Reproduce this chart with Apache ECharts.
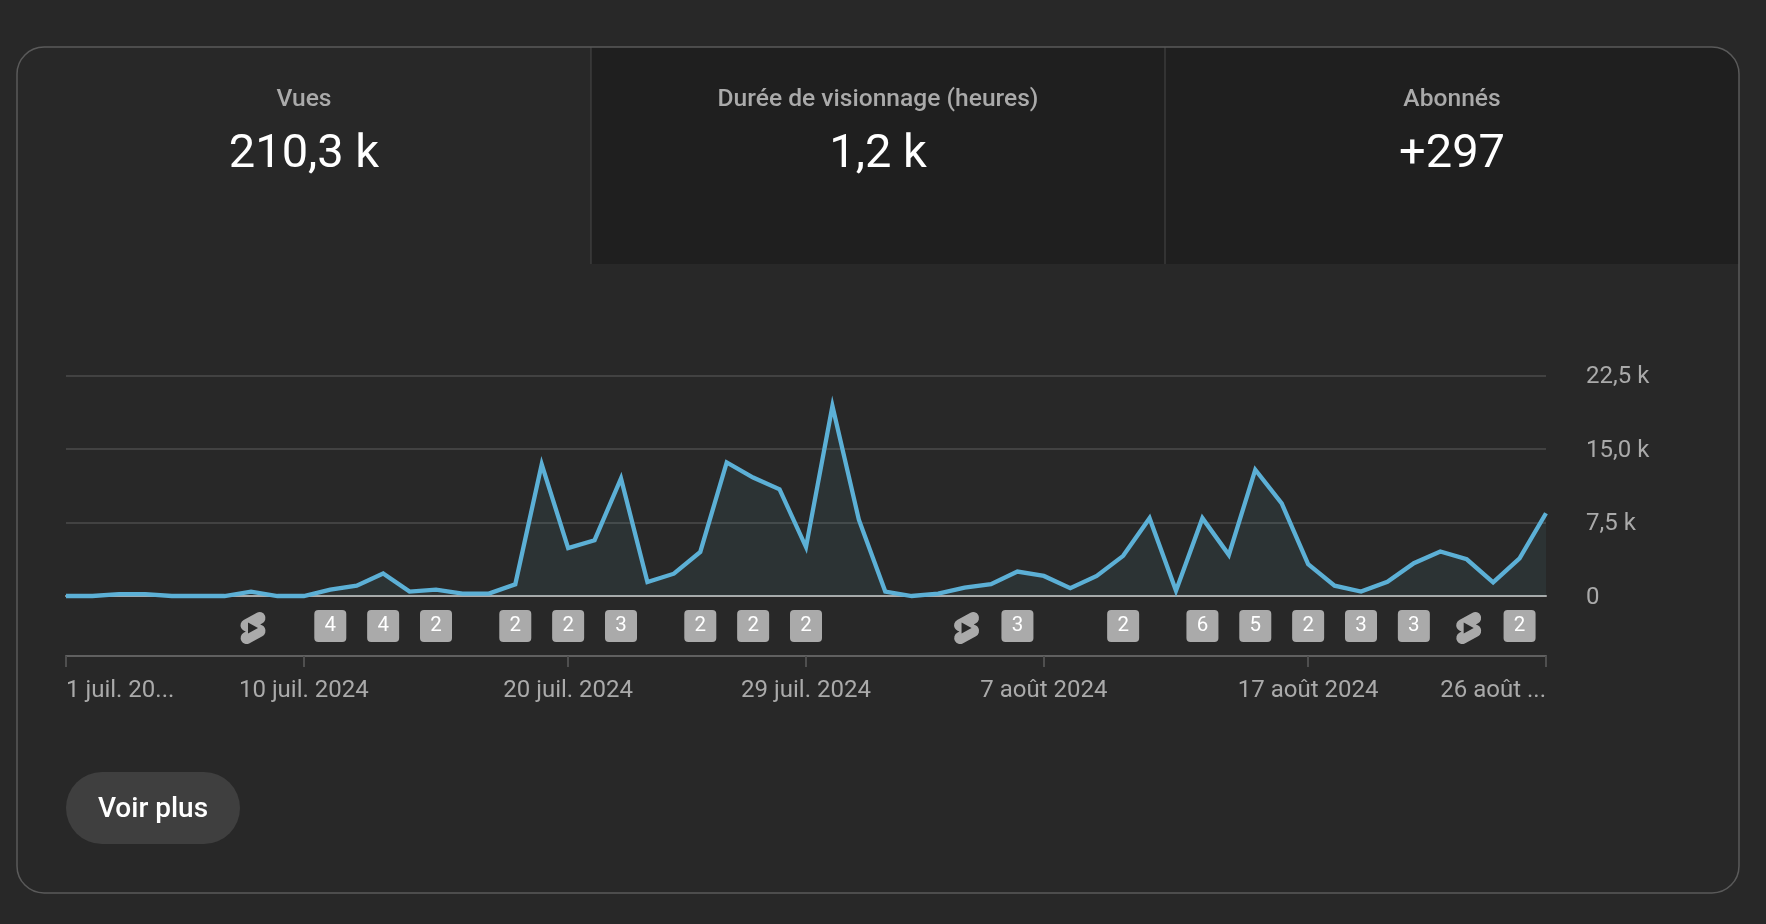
<!DOCTYPE html>
<html lang="fr">
<head>
<meta charset="utf-8">
<title>Vues</title>
<style>html,body{margin:0;padding:0;background:#282828}#c{width:1766px;height:924px}</style>
<script src="https://cdn.jsdelivr.net/npm/echarts@6/dist/echarts.min.js"></script>
</head>
<body>
<div id="c"></div>
<script>
const categories = ['1 juil.','2 juil.','3 juil.','4 juil.','5 juil.','6 juil.','7 juil.','8 juil.','9 juil.','10 juil.','11 juil.','12 juil.','13 juil.','14 juil.','15 juil.','16 juil.','17 juil.','18 juil.','19 juil.','20 juil.','21 juil.','22 juil.','23 juil.','24 juil.','25 juil.','26 juil.','27 juil.','28 juil.','29 juil.','30 juil.','31 juil.','1 août','2 août','3 août','4 août','5 août','6 août','7 août','8 août','9 août','10 août','11 août','12 août','13 août','14 août','15 août','16 août','17 août','18 août','19 août','20 août','21 août','22 août','23 août','24 août','25 août','26 août'];
const views = [0,0,200,200,0,0,0,450,0,0,650,1050,2300,450,650,250,250,1200,13450,4900,5700,12000,1430,2280,4500,13650,12100,10900,5000,19400,7800,450,0,250,850,1200,2500,2050,800,2050,4100,7950,550,7950,4200,12900,9450,3250,1050,450,1450,3350,4550,3750,1400,3850,8450];
const tickLabels = {'1 juil.':'1 juil. 20...','10 juil.':'10 juil. 2024','20 juil.':'20 juil. 2024','29 juil.':'29 juil. 2024','7 août':'7 août 2024','17 août':'17 août 2024','26 août':'26 août ...'};
const yTickLabels = {0:'0',7500:'7,5 k',15000:'15,0 k',22500:'22,5 k'};
const badgeDays = ['11 juil.','13 juil.','15 juil.','18 juil.','20 juil.','22 juil.','25 juil.','27 juil.','29 juil.','6 août','10 août','13 août','15 août','17 août','19 août','21 août','25 août'];
const badgeCounts = [4,4,2,2,2,3,2,2,2,3,2,6,5,2,3,3,2];
const shortsDays = ['8 juil.','4 août','23 août'];
const tabTitles = ['Vues','Durée de visionnage (heures)','Abonnés'];
const tabValues = ['210,3 k','1,2 k','+297'];
const buttonLabel = 'Voir plus';

const FONT = 'Roboto';
const shortsPath = 'path://M17.77 10.32l-1.2-.5L18 9.06a3.74 3.74 0 0 0-3.5-6.62L6 6.94a3.74 3.74 0 0 0 .23 6.74l1.2.49L6 14.93a3.75 3.75 0 0 0 3.5 6.63l8.5-4.5a3.74 3.74 0 0 0-.23-6.74Z';
const playPath = 'path://M10 14.65v-5.3L15 12l-5 2.65Z';
const cardL = 17, cardT = 47, cardR = 1739, cardB = 893, tabB = 264, d1 = 591, d2 = 1165;
const tabCx = [304, 878, 1452];

const chart = echarts.init(document.getElementById('c'), null, {renderer:'canvas', width:1766, height:924});
const graphic = [
  {type:'rect', silent:true, z:-10, shape:{x:d1,y:cardT,width:d2-d1,height:tabB-cardT}, style:{fill:'#1f1f1f'}},
  {type:'rect', silent:true, z:-10, shape:{x:d2,y:cardT,width:cardR-d2,height:tabB-cardT,r:[0,27,0,0]}, style:{fill:'#1f1f1f'}},
  {type:'line', silent:true, z:-9, shape:{x1:d1,y1:cardT,x2:d1,y2:tabB}, style:{stroke:'#484848',lineWidth:1}},
  {type:'line', silent:true, z:-9, shape:{x1:d2,y1:cardT,x2:d2,y2:tabB}, style:{stroke:'#484848',lineWidth:1}},
  {type:'rect', silent:true, z:-8, shape:{x:cardL,y:cardT,width:cardR-cardL,height:cardB-cardT,r:27}, style:{fill:'none',stroke:'#5a5a5a',lineWidth:1.5}},
  {type:'rect', silent:true, shape:{x:66,y:772,width:174,height:72,r:36}, style:{fill:'#3f3f3f'}},
  {type:'text', silent:true, x:153, y:810, style:{text:buttonLabel,fill:'#ffffff',font:'500 28px '+FONT,textAlign:'center',textVerticalAlign:'middle'}}
];
tabTitles.forEach((t,i)=>{
  graphic.push({type:'text', silent:true, x:tabCx[i], y:100.3, style:{text:t,fill:'#aaaaaa',font:'500 24.6px '+FONT,textAlign:'center',textVerticalAlign:'middle'}});
  graphic.push({type:'text', silent:true, x:tabCx[i], y:155.5, style:{text:tabValues[i],fill:'#ffffff',font:'400 47px '+FONT,textAlign:'center',textVerticalAlign:'middle'}});
});

chart.setOption({
  animation:false,
  backgroundColor:'#282828',
  textStyle:{fontFamily:FONT},
  graphic:{elements:graphic},
  grid:[
    {left:66, width:1480, top:375.7, height:220.3, containLabel:false},
    {left:66, width:1480, top:596, height:60, containLabel:false}
  ],
  xAxis:[
    {type:'category', gridIndex:0, data:categories, boundaryGap:false,
     axisLine:{onZero:true,lineStyle:{color:'#aaaaaa',width:2}}, axisTick:{show:false}, axisLabel:{show:false}, splitLine:{show:false}},
    {type:'category', gridIndex:1, data:categories, boundaryGap:false, position:'bottom',
     axisLine:{show:true,onZero:false,lineStyle:{color:'#606060',width:2}},
     axisTick:{show:true,length:11,lineStyle:{color:'#4f4f4f',width:2},interval:(i,v)=>v in tickLabels},
     axisLabel:{show:true,interval:(i,v)=>v in tickLabels,formatter:v=>tickLabels[v]||'',color:'#aaaaaa',fontFamily:FONT,fontSize:24,margin:22.5,
       alignMinLabel:'left',alignMaxLabel:'right',hideOverlap:false},
     splitLine:{show:false}}
  ],
  yAxis:[
    {type:'value', gridIndex:0, position:'right', min:0, max:22500, interval:7500,
     axisLine:{show:false}, axisTick:{show:false},
     axisLabel:{color:'#aaaaaa',fontFamily:FONT,fontSize:24,margin:40,align:'left',verticalAlign:'top',lineHeight:3,formatter:v=>yTickLabels[v]},
     splitLine:{lineStyle:{color:'#424242',width:2}}},
    {type:'value', gridIndex:1, min:-1, max:1, show:false}
  ],
  series:[
    {type:'line', xAxisIndex:0, yAxisIndex:0, data:views, symbol:'none', smooth:false, clip:false,
     lineStyle:{color:'#5cb0d6',width:4.3,join:'miter'}, areaStyle:{color:'rgba(100,190,210,0.115)'}, z:5},
    {type:'scatter', xAxisIndex:1, yAxisIndex:1, symbol:'path://M4 0H28A4 4 0 0 1 32 4V28A4 4 0 0 1 28 32H4A4 4 0 0 1 0 28V4A4 4 0 0 1 4 0Z', symbolSize:32, silent:true,
     data:badgeDays.map((d,i)=>[d,0,badgeCounts[i]]),
     itemStyle:{color:'#aaaaaa',opacity:1},
     label:{show:true,position:'inside',formatter:p=>String(p.value[2]),color:'#ffffff',fontFamily:FONT,fontSize:20.5,padding:[2,0,0,0]}, z:6},
    {type:'scatter', xAxisIndex:1, yAxisIndex:1, symbol:shortsPath, symbolSize:[25,32], symbolOffset:[2,2], silent:true,
     data:shortsDays.map(d=>[d,0]), itemStyle:{color:'#aaaaaa',opacity:1}, z:6},
    {type:'scatter', xAxisIndex:1, yAxisIndex:1, symbol:playPath, symbolSize:[10,11], symbolOffset:[2,2], silent:true,
     data:shortsDays.map(d=>[d,0]), itemStyle:{color:'#282828',opacity:1}, z:7}
  ]
});
</script>
</body>
</html>
